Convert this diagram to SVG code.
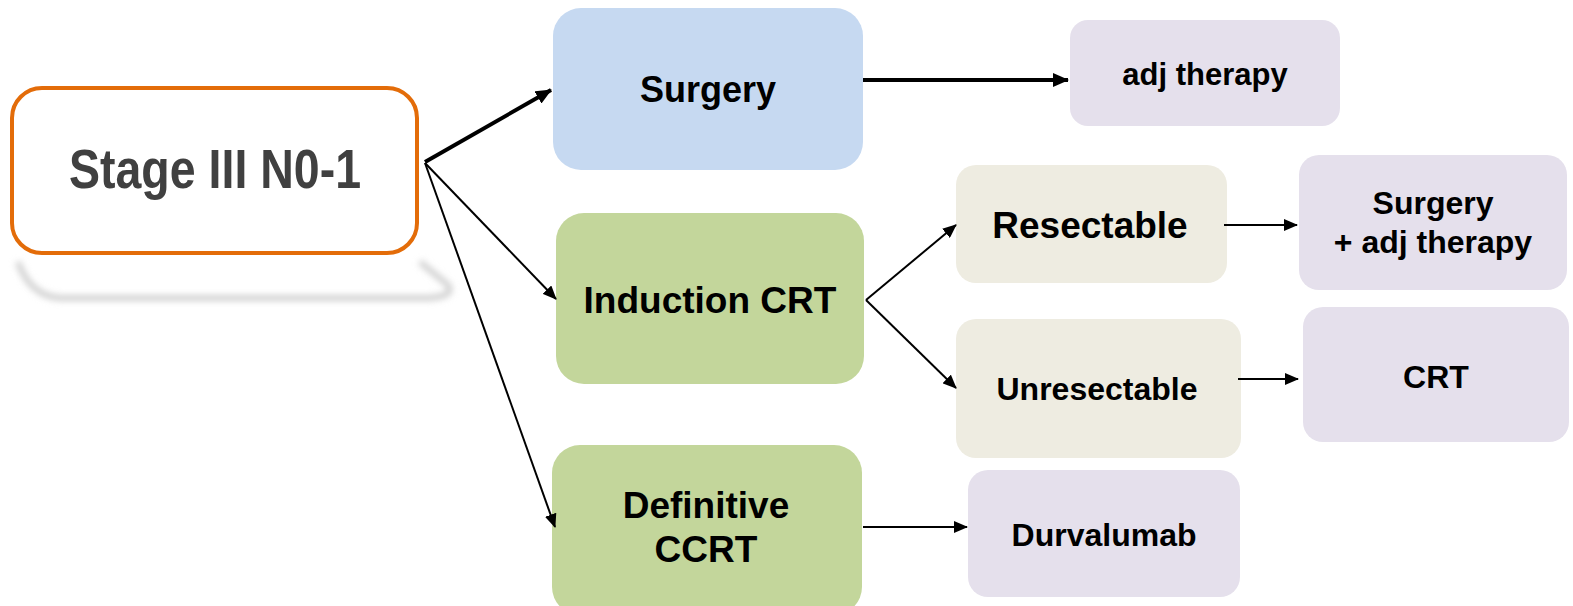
<svg xmlns="http://www.w3.org/2000/svg" width="1573" height="606" viewBox="0 0 1573 606">
<style>
.t{font-family:"Liberation Sans",Arial,sans-serif;font-weight:bold;fill:#000;text-anchor:middle}
.c{stroke:#000;fill:none}
</style>
<defs>
<marker id="ah" markerUnits="userSpaceOnUse" markerWidth="16" markerHeight="14" refX="15" refY="7" orient="auto">
<path d="M0,0 L16,7 L0,14 Z" fill="#000"/>
</marker>
<marker id="ahs" markerUnits="userSpaceOnUse" markerWidth="14" markerHeight="12" refX="13" refY="6" orient="auto">
<path d="M0,0 L14,6 L0,12 Z" fill="#000"/>
</marker>
<filter id="blur" x="-10%" y="-50%" width="120%" height="200%"><feGaussianBlur stdDeviation="3"/></filter>
</defs>
<g id="shadow">
<path d="M18,262 Q30,296 60,298 L430,298 Q455,296 448,285 L420,262" fill="none" stroke="#d0d0d0" stroke-width="6" filter="url(#blur)"/>
</g>
<g id="stage">
<rect x="12" y="88" width="405" height="165" rx="30" fill="#fff" stroke="#E36C09" stroke-width="4"/>
<text class="t" x="215" y="188" font-size="56" style="fill:#404040" textLength="292" lengthAdjust="spacingAndGlyphs">Stage III N0-1</text>
</g>
<g id="surgery">
<rect x="553" y="8" width="310" height="162" rx="28" fill="#C6D9F1"/>
<text class="t" x="708" y="102" font-size="36">Surgery</text>
</g>
<g id="adj">
<rect x="1070" y="20" width="270" height="106" rx="18" fill="#E5E0EC"/>
<text class="t" x="1205" y="85" font-size="31">adj therapy</text>
</g>
<g id="induction">
<rect x="556" y="213" width="308" height="171" rx="28" fill="#C3D69B"/>
<text class="t" x="710" y="313" font-size="37">Induction CRT</text>
</g>
<g id="resectable">
<rect x="956" y="165" width="271" height="118" rx="20" fill="#EEECE1"/>
<text class="t" x="1090" y="238" font-size="37">Resectable</text>
</g>
<g id="unresectable">
<rect x="956" y="319" width="285" height="139" rx="20" fill="#EEECE1"/>
<text class="t" x="1097" y="400" font-size="32">Unresectable</text>
</g>
<g id="surgadj">
<rect x="1299" y="155" width="268" height="135" rx="20" fill="#E5E0EC"/>
<text class="t" x="1433" y="214" font-size="32">Surgery</text>
<text class="t" x="1433" y="253" font-size="32">+ adj therapy</text>
</g>
<g id="crt">
<rect x="1303" y="307" width="266" height="135" rx="20" fill="#E5E0EC"/>
<text class="t" x="1436" y="388" font-size="32">CRT</text>
</g>
<g id="definitive">
<rect x="552" y="445" width="310" height="170" rx="28" fill="#C3D69B"/>
<text class="t" x="706" y="518" font-size="37">Definitive</text>
<text class="t" x="706" y="562" font-size="37">CCRT</text>
</g>
<g id="durvalumab">
<rect x="968" y="470" width="272" height="127" rx="20" fill="#E5E0EC"/>
<text class="t" x="1104" y="546" font-size="32">Durvalumab</text>
</g>
<g id="connectors">
<line class="c" x1="425" y1="162" x2="551" y2="90" stroke-width="4" marker-end="url(#ah)"/>
<line class="c" x1="863" y1="80" x2="1068" y2="80" stroke-width="4" marker-end="url(#ah)"/>
<line class="c" x1="425" y1="163" x2="556" y2="299" stroke-width="2" marker-end="url(#ahs)"/>
<line class="c" x1="425" y1="163" x2="555" y2="527" stroke-width="2" marker-end="url(#ahs)"/>
<line class="c" x1="866" y1="300" x2="956" y2="225" stroke-width="2" marker-end="url(#ahs)"/>
<line class="c" x1="866" y1="300" x2="956" y2="388" stroke-width="2" marker-end="url(#ahs)"/>
<line class="c" x1="1224" y1="225" x2="1297" y2="225" stroke-width="2" marker-end="url(#ahs)"/>
<line class="c" x1="1238" y1="379" x2="1298" y2="379" stroke-width="2" marker-end="url(#ahs)"/>
<line class="c" x1="863" y1="527" x2="967" y2="527" stroke-width="2" marker-end="url(#ahs)"/>
</g>
</svg>
